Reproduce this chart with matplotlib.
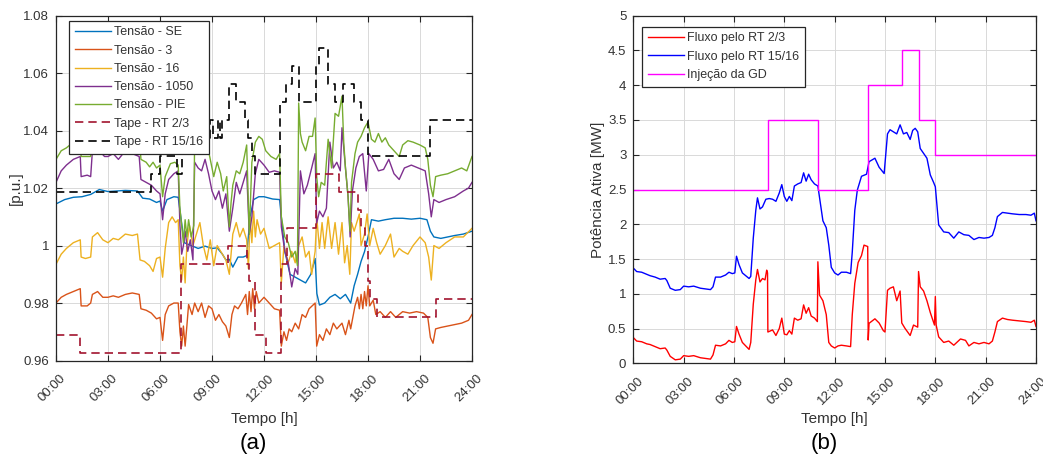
import matplotlib
matplotlib.use("Agg")
import matplotlib.pyplot as plt
import matplotlib.transforms as mtransforms

plt.rcParams['font.family'] = ['Liberation Sans', 'DejaVu Sans']

# ---------------- data: panel (a) ----------------
tensao_se = [(0,1.0145),(0.5,1.0160),(1.0,1.0168),(1.5,1.0170),(2.0,1.0178),(2.5,1.0195),(3.0,1.0188),(3.5,1.0190),
             (4.0,1.0192),(4.7,1.0190),(5.0,1.0165),(5.4,1.0162),(5.8,1.0150),(6.0,1.0155),(6.15,1.0120),(6.4,1.0160),
             (6.8,1.0170),(7.05,1.0168),(7.2,1.0100),(7.4,1.0010),(7.8,1.0000),(8.2,0.9990),(8.6,0.9998),(9.0,0.9990),
             (9.3,0.9992),(9.6,0.9970),(9.8,0.9950),(10.0,0.9952),(10.2,0.9925),(10.5,0.9960),(10.8,0.9960),(11.0,0.9965),
             (11.2,1.0100),(11.4,1.0160),(11.7,1.0170),(12.0,1.0170),(12.5,1.0162),(12.9,1.0160),(13.0,1.0100),(13.2,0.9980),
             (13.5,0.9900),(13.8,0.9890),(14.1,0.9880),(14.4,0.9870),(14.7,0.9900),(14.95,0.9955),(15.05,0.9833),(15.2,0.9793),
             (15.5,0.9800),(15.8,0.9820),(16.1,0.9830),(16.4,0.9815),(16.7,0.9830),(17.0,0.9800),(17.2,0.9860),(17.4,0.9900),
             (17.6,0.9945),(17.8,0.9979),(18.0,1.0030),(18.2,1.0090),(18.6,1.0085),(19.0,1.0090),(19.5,1.0095),(20.0,1.0095),
             (20.5,1.0092),(21.0,1.0095),(21.4,1.0090),(21.6,1.0050),(21.8,1.0030),(22.2,1.0025),(22.6,1.0030),(23.0,1.0035),
             (23.5,1.0040),(24.0,1.0050)]

tensao_3 = [(0,0.980),(0.3,0.982),(0.6,0.983),(1.0,0.984),(1.4,0.985),(1.45,0.979),(1.8,0.979),(2.0,0.980),(2.1,0.983),
            (2.4,0.984),(2.7,0.982),(3.0,0.982),(3.3,0.9825),(3.6,0.982),(4.0,0.983),(4.4,0.9835),(4.8,0.983),(4.9,0.978),
            (5.2,0.9775),(5.5,0.9765),(5.8,0.9745),(6.0,0.975),(6.15,0.967),(6.3,0.976),(6.5,0.979),(6.8,0.980),(7.05,0.980),
            (7.15,0.970),(7.25,0.965),(7.35,0.972),(7.45,0.965),(7.55,0.972),(7.65,0.9795),(7.85,0.976),(8.0,0.980),(8.2,0.977),
            (8.4,0.980),(8.6,0.975),(8.8,0.979),(9.0,0.978),(9.2,0.974),(9.4,0.976),(9.6,0.9735),(9.8,0.972),(10.0,0.968),
            (10.15,0.976),(10.3,0.979),(10.5,0.978),(10.7,0.980),(10.95,0.983),(11.05,0.976),(11.15,0.984),(11.25,0.977),
            (11.35,0.985),(11.45,0.978),(11.55,0.984),(11.7,0.980),(12.0,0.982),(12.3,0.980),(12.6,0.978),(12.9,0.9775),
            (13.0,0.965),(13.15,0.970),(13.3,0.967),(13.45,0.971),(13.6,0.970),(13.8,0.973),(14.0,0.971),(14.2,0.976),
            (14.4,0.975),(14.6,0.978),(14.95,0.980),(15.04,0.965),(15.2,0.969),(15.4,0.967),(15.6,0.971),(15.8,0.969),
            (16.0,0.973),(16.2,0.971),(16.5,0.973),(16.7,0.969),(16.9,0.974),(17.0,0.971),(17.25,0.979),(17.4,0.982),
            (17.5,0.978),(17.6,0.983),(17.7,0.978),(17.8,0.984),(17.9,0.979),(18.0,0.986),(18.1,0.979),(18.3,0.981),
            (18.45,0.976),(18.7,0.977),(19.0,0.975),(19.3,0.977),(19.6,0.975),(20.0,0.977),(20.4,0.9765),(20.8,0.977),
            (21.2,0.9765),(21.45,0.975),(21.6,0.968),(21.75,0.966),(21.9,0.971),(22.2,0.9715),(22.6,0.972),(23.0,0.9725),
            (23.4,0.973),(23.8,0.974),(24.0,0.976)]

tensao_16 = [(0,0.9935),(0.3,0.997),(0.6,0.999),(1.0,1.001),(1.4,1.002),(1.45,0.996),(1.7,0.9955),(2.0,0.996),(2.1,1.003),
             (2.4,1.0045),(2.7,1.002),(3.0,1.001),(3.3,1.0025),(3.6,1.002),(4.0,1.004),(4.4,1.0035),(4.7,1.004),(4.85,0.995),
             (5.1,0.9945),(5.4,0.993),(5.6,0.991),(5.8,0.9955),(6.0,0.996),(6.15,0.989),(6.3,0.999),(6.5,1.008),(6.7,1.010),
             (6.9,1.008),(7.05,1.009),(7.15,0.993),(7.25,0.988),(7.35,0.996),(7.45,0.987),(7.55,1.000),(7.7,1.007),(7.9,1.000),
             (8.1,1.004),(8.3,1.008),(8.5,1.000),(8.7,0.995),(8.9,1.002),(9.1,0.993),(9.3,1.000),(9.6,0.997),(9.8,0.995),
             (10.0,0.990),(10.2,1.004),(10.4,1.008),(10.6,1.003),(10.8,1.006),(11.0,1.002),(11.1,0.992),(11.2,1.010),
             (11.3,1.001),(11.4,1.012),(11.5,1.003),(11.6,1.009),(11.8,1.004),(12.0,1.006),(12.3,0.999),(12.6,1.000),
             (12.9,1.001),(13.0,0.987),(13.15,1.000),(13.4,0.994),(13.6,0.998),(13.8,0.994),(14.0,1.000),(14.2,1.003),
             (14.4,0.996),(14.6,0.998),(14.75,0.990),(14.95,0.998),(15.04,1.010),(15.2,0.999),(15.35,1.008),(15.5,0.999),
             (15.7,1.010),(15.9,0.999),(16.1,1.008),(16.3,0.997),(16.5,1.008),(16.65,0.994),(16.8,1.000),(16.95,0.990),
             (17.05,1.008),(17.2,1.005),(17.5,1.011),(17.6,1.000),(17.8,1.004),(17.95,1.011),(18.1,1.000),(18.3,1.006),
             (18.5,1.001),(18.7,0.997),(19.0,1.000),(19.3,1.004),(19.5,0.996),(19.8,0.999),(20.0,0.998),(20.3,0.997),
             (20.6,1.000),(21.0,1.003),(21.3,1.001),(21.5,0.996),(21.65,0.988),(21.8,1.000),(22.1,0.999),(22.5,1.001),
             (23.0,1.003),(23.5,1.003),(24.0,1.006)]

tensao_1050 = [(0,1.022),(0.3,1.026),(0.6,1.028),(1.0,1.030),(1.4,1.031),(1.45,1.024),(1.8,1.0245),(2.0,1.024),(2.1,1.033),
               (2.5,1.033),(2.8,1.031),(3.0,1.031),(3.3,1.032),(3.6,1.030),(4.0,1.033),(4.4,1.032),(4.8,1.031),(4.9,1.023),
               (5.2,1.022),(5.5,1.021),(5.8,1.019),(6.0,1.018),(6.15,1.009),(6.3,1.018),(6.5,1.023),(6.8,1.025),(7.05,1.026),
               (7.15,1.007),(7.25,0.997),(7.35,1.000),(7.45,1.005),(7.6,0.998),(7.75,1.002),(7.9,0.995),(8.0,1.029),(8.2,1.027),
               (8.4,1.026),(8.6,1.030),(8.8,1.025),(9.0,1.019),(9.2,1.016),(9.4,1.019),(9.6,1.013),(9.8,1.018),(10.0,1.005),
               (10.2,1.013),(10.4,1.022),(10.6,1.018),(10.8,1.022),(11.0,1.026),(11.15,1.004),(11.3,1.010),(11.5,1.025),
               (11.7,1.030),(12.0,1.028),(12.3,1.0255),(12.6,1.026),(12.9,1.0255),(13.0,1.0065),(13.2,0.998),(13.4,0.994),
               (13.6,0.9856),(13.8,0.992),(13.95,0.990),(14.1,1.026),(14.3,1.018),(14.5,1.021),(14.75,1.027),(14.95,1.032),
               (15.04,1.0078),(15.2,1.012),(15.4,1.010),(15.6,1.013),(15.8,1.036),(16.0,1.027),(16.2,1.029),(16.4,1.026),
               (16.5,1.041),(16.7,1.027),(16.85,1.017),(16.97,1.003),(17.1,1.019),(17.3,1.027),(17.5,1.031),(17.7,1.032),
               (17.9,1.019),(18.05,1.032),(18.3,1.030),(18.6,1.026),(18.9,1.0265),(19.2,1.030),(19.5,1.025),(19.8,1.023),
               (20.1,1.027),(20.5,1.028),(20.9,1.027),(21.3,1.026),(21.5,1.018),(21.65,1.010),(21.8,1.016),(22.1,1.015),
               (22.5,1.016),(23.0,1.017),(23.5,1.019),(23.8,1.020),(24.0,1.022)]

tensao_pie = [(0,1.030),(0.3,1.033),(0.6,1.034),(1.0,1.036),(1.4,1.037),(1.45,1.031),(2.0,1.031),(2.1,1.039),(3.0,1.040),
              (4.0,1.040),(4.8,1.039),(4.9,1.030),(5.2,1.029),(5.4,1.0274),(5.6,1.029),(5.8,1.027),(6.0,1.028),(6.15,1.017),
              (6.3,1.024),(6.6,1.0285),(6.86,1.029),(7.05,1.028),(7.15,1.013),(7.25,1.007),(7.35,1.001),(7.45,1.009),
              (7.55,1.003),(7.65,1.009),(7.8,1.003),(7.95,1.007),(8.0,1.039),(8.15,1.035),(8.3,1.038),(8.5,1.042),(8.7,1.036),
              (8.9,1.030),(9.1,1.024),(9.3,1.029),(9.5,1.025),(9.65,1.019),(9.85,1.024),(10.0,1.0065),(10.1,1.015),(10.2,1.021),
              (10.4,1.026),(10.6,1.025),(10.8,1.029),(11.0,1.035),(11.15,1.004),(11.3,1.029),(11.5,1.036),(11.7,1.038),
              (11.9,1.037),(12.1,1.033),(12.4,1.031),(12.7,1.030),(12.9,1.032),(13.0,1.010),(13.2,1.003),(13.4,1.001),
              (13.6,0.996),(13.8,0.998),(13.93,0.993),(14.0,1.0496),(14.1,1.039),(14.2,1.036),(14.4,1.033),(14.6,1.038),
              (14.8,1.038),(14.95,1.0444),(15.04,1.024),(15.15,1.017),(15.3,1.022),(15.5,1.021),(15.7,1.037),(15.9,1.027),
              (16.1,1.046),(16.3,1.045),(16.5,1.052),(16.6,1.036),(16.7,1.027),(16.85,1.017),(16.96,1.005),(17.05,1.022),
              (17.25,1.032),(17.4,1.036),(17.6,1.038),(17.8,1.041),(18.0,1.043),(18.2,1.037),(18.4,1.036),(18.6,1.039),
              (18.8,1.036),(19.0,1.0375),(19.2,1.035),(19.5,1.033),(19.8,1.031),(20.0,1.035),(20.3,1.0365),(20.6,1.036),
              (21.0,1.035),(21.3,1.034),(21.45,1.030),(21.6,1.021),(21.75,1.017),(21.9,1.024),(22.2,1.0245),(22.6,1.025),
              (23.0,1.026),(23.4,1.027),(23.7,1.026),(24.0,1.031)]

tape_rt23 = [(0,0.96875),(1.4,0.9625),(7.2,0.99375),(9.9,1.0),(11.0,0.99375),(11.15,0.9875),(11.5,0.96875),(12.1,0.9625),
             (13.0,0.99375),(13.3,1.00625),(15.0,1.025),(16.3,1.01875),(17.4,1.0125),(17.6,1.00625),(17.8,1.0),
             (18.0,0.9875),(18.1,0.98125),(18.5,0.975),(21.9,0.98125),(24.0,0.98125)]

tape_rt1516 = [(0,1.01875),(5.5,1.025),(6.0,1.03125),(7.0,1.025),(7.25,1.0375),(8.3,1.04375),(8.5,1.0375),(8.9,1.04375),
               (9.05,1.0375),(9.35,1.04375),(9.45,1.0375),(9.6,1.04375),(10.0,1.05625),(10.4,1.05),(10.9,1.04375),
               (11.1,1.0375),(11.3,1.03125),(11.5,1.025),(12.95,1.05),(13.25,1.05625),(13.6,1.0625),(14.0,1.05),
               (15.0,1.0625),(15.2,1.06875),(15.7,1.05625),(16.1,1.05),(16.55,1.05625),(17.2,1.05),(17.6,1.04375),
               (18.0,1.03125),(21.6,1.04375),(24.0,1.04375)]

# ---------------- data: panel (b) ----------------
fluxo_rt23 = [(0,0.37),(0.2,0.32),(0.5,0.31),(0.8,0.28),(1.0,0.27),(1.3,0.24),(1.6,0.21),(1.9,0.22),(2.0,0.19),(2.2,0.10),
              (2.5,0.05),(2.8,0.06),(3.0,0.11),(3.3,0.10),(3.6,0.11),(4.0,0.08),(4.3,0.07),(4.6,0.06),(4.75,0.12),(4.9,0.26),
              (5.2,0.25),(5.5,0.28),(5.7,0.33),(5.9,0.30),(6.05,0.31),(6.15,0.53),(6.3,0.42),(6.5,0.30),(6.7,0.25),(6.9,0.20),
              (7.0,0.30),(7.15,0.85),(7.3,1.20),(7.4,1.35),(7.55,1.17),(7.7,1.22),(7.85,1.20),(7.95,1.34),(8.0,1.30),(8.02,0.45),
              (8.3,0.48),(8.5,0.40),(8.7,0.50),(8.85,0.65),(9.0,0.42),(9.15,0.41),(9.3,0.47),(9.45,0.42),(9.6,0.65),(9.8,0.62),
              (10.0,0.64),(10.15,0.84),(10.3,0.72),(10.45,0.80),(10.6,0.68),(10.8,0.65),(10.97,0.60),(11.0,1.46),(11.1,0.98),
              (11.3,0.90),(11.5,0.70),(11.65,0.30),(11.8,0.25),(12.0,0.22),(12.2,0.25),(12.4,0.26),(12.7,0.25),(12.95,0.24),
              (13.05,0.70),(13.2,1.15),(13.4,1.45),(13.6,1.55),(13.75,1.70),(13.97,1.68),(14.0,0.335),(14.05,0.575),
              (14.4,0.64),(14.65,0.58),(14.9,0.47),(15.0,0.45),(15.15,1.05),(15.3,1.08),(15.5,1.10),(15.7,0.90),(15.9,1.04),
              (16.0,0.58),(16.2,0.50),(16.5,0.40),(16.7,0.55),(16.95,0.52),(17.0,1.32),(17.1,1.10),(17.3,1.04),(17.5,0.90),
              (17.7,0.73),(17.95,0.55),(18.0,0.96),(18.05,0.55),(18.2,0.38),(18.5,0.30),(18.8,0.32),(19.1,0.26),(19.5,0.35),
              (19.8,0.33),(20.0,0.25),(20.3,0.30),(20.6,0.28),(20.9,0.30),(21.2,0.28),(21.4,0.32),(21.55,0.45),(21.7,0.60),
              (22.0,0.65),(22.3,0.63),(22.6,0.62),(23.0,0.61),(23.4,0.60),(23.7,0.59),(23.9,0.62),(24.0,0.53)]

fluxo_rt1516 = [(0,1.37),(0.2,1.32),(0.5,1.31),(0.8,1.28),(1.0,1.26),(1.3,1.24),(1.6,1.21),(1.9,1.22),(2.0,1.19),(2.2,1.08),
                (2.5,1.05),(2.8,1.06),(3.0,1.11),(3.3,1.10),(3.6,1.11),(4.0,1.08),(4.3,1.07),(4.6,1.06),(4.75,1.10),(4.9,1.24),
                (5.2,1.24),(5.5,1.27),(5.7,1.31),(5.9,1.29),(6.05,1.30),(6.15,1.54),(6.3,1.42),(6.5,1.30),(6.7,1.26),(6.9,1.22),
                (7.0,1.25),(7.15,1.80),(7.3,2.20),(7.4,2.38),(7.55,2.22),(7.7,2.25),(7.9,2.36),(8.1,2.37),(8.3,2.36),(8.5,2.33),
                (8.7,2.45),(8.85,2.57),(9.0,2.40),(9.15,2.33),(9.3,2.40),(9.45,2.34),(9.6,2.55),(9.8,2.58),(10.0,2.60),
                (10.15,2.74),(10.3,2.62),(10.45,2.72),(10.6,2.64),(10.8,2.58),(11.0,2.55),(11.15,2.30),(11.3,2.05),(11.5,1.95),
                (11.65,1.70),(11.8,1.38),(12.0,1.30),(12.2,1.27),(12.4,1.31),(12.7,1.31),(12.95,1.29),(13.05,1.60),(13.2,2.20),
                (13.35,2.49),(13.6,2.69),(13.9,2.72),(14.05,2.90),(14.4,2.95),(14.65,2.82),(14.95,2.73),(15.15,3.30),(15.3,3.36),
                (15.5,3.33),(15.7,3.30),(15.9,3.43),(16.1,3.30),(16.3,3.32),(16.5,3.22),(16.65,3.35),(16.8,3.38),(16.95,3.33),
                (17.1,3.09),(17.3,3.02),(17.5,2.95),(17.7,2.71),(17.9,2.60),(18.0,2.54),(18.2,1.99),(18.5,1.89),(18.8,1.88),
                (19.1,1.80),(19.4,1.89),(19.7,1.85),(20.0,1.84),(20.3,1.78),(20.6,1.81),(20.9,1.80),(21.2,1.81),(21.4,1.84),
                (21.55,1.95),(21.7,2.11),(22.0,2.17),(22.3,2.16),(22.6,2.15),(23.0,2.14),(23.4,2.14),(23.7,2.13),(23.9,2.16),
                (24.0,2.05)]

injecao_gd = [(0,2.5),(8,3.5),(11,2.5),(14,4.0),(16,4.5),(17,3.5),(18,3.0),(24,3.0)]

x_ticks = [0, 3, 6, 9, 12, 15, 18, 21, 24]
x_ticklabels = ["00:00", "03:00", "06:00", "09:00", "12:00", "15:00", "18:00", "21:00", "24:00"]
y_ticks_a = [0.96, 0.98, 1.00, 1.02, 1.04, 1.06, 1.08]
y_ticklabels_a = ["0.96", "0.98", "1", "1.02", "1.04", "1.06", "1.08"]
y_ticks_b = [0, 0.5, 1, 1.5, 2, 2.5, 3, 3.5, 4, 4.5, 5]
y_ticklabels_b = ["0", "0.5", "1", "1.5", "2", "2.5", "3", "3.5", "4", "4.5", "5"]

# ---------------- figure ----------------
W, H = 1043, 457
fig = plt.figure(figsize=(W / 100, H / 100), dpi=100)
ax1 = fig.add_axes([56 / W, 1 - 360.5 / H, 416 / W, (360.5 - 15.7) / H])
ax2 = fig.add_axes([633.3 / W, 1 - 363.3 / H, 402.7 / W, (363.3 - 15.7) / H])

TXT = '#333333'
AXC = '#262626'
FS_TICK = 9.5
FS_LAB = 11
FS_LEG = 9


def xy(pairs):
    return [p[0] for p in pairs], [p[1] for p in pairs]


def style(ax):
    ax.set_xlim(0, 24)
    ax.set_xticks(x_ticks)
    ax.set_xticklabels([])
    off = mtransforms.ScaledTranslation(4 / 100, -12 / 100, fig.dpi_scale_trans)
    for xt, lab in zip(x_ticks, x_ticklabels):
        ax.text(xt, 0, lab, transform=ax.get_xaxis_transform() + off, rotation=45,
                ha='right', va='top', rotation_mode='anchor', fontsize=FS_TICK, color=TXT)
    ax.grid(True, color='#d9d9d9', linewidth=0.7)
    ax.set_axisbelow(True)
    ax.tick_params(direction='in', length=4, width=0.8, colors=AXC, labelcolor=TXT, labelsize=FS_TICK,
                   top=True, right=True, pad=5)
    for s in ax.spines.values():
        s.set_color(AXC)
        s.set_linewidth(0.9)


series_a = [
    (tensao_se, '#0072BD', 'Tensão - SE'),
    (tensao_3, '#D95319', 'Tensão - 3'),
    (tensao_16, '#EDB120', 'Tensão - 16'),
    (tensao_1050, '#7E2F8E', 'Tensão - 1050'),
    (tensao_pie, '#77AC30', 'Tensão - PIE'),
]
for data, c, lab in series_a:
    t, v = xy(data)
    ax1.plot(t, v, color=c, lw=1.0, label=lab)
t, v = xy(tape_rt23)
ax1.plot(t, v, color='#A2142F', lw=1.2, ls=(0, (5, 3)), drawstyle='steps-post', label='Tape - RT 2/3')
t, v = xy(tape_rt1516)
ax1.plot(t, v, color='black', lw=1.2, ls=(0, (5, 3)), drawstyle='steps-post', label='Tape - RT 15/16')

style(ax1)
ax1.set_ylim(0.96, 1.08)
ax1.set_yticks(y_ticks_a)
ax1.set_yticklabels(y_ticklabels_a)
ax1.set_xlabel('Tempo [h]', fontsize=FS_LAB, color=TXT)
ax1.set_ylabel('[p.u.]', fontsize=FS_LAB, color=TXT)
ax1.xaxis.set_label_coords(0.5, -(412 - 360.5) / 344.8)
ax1.yaxis.set_label_coords(-(56 - 23) / 416, 0.5)
leg1 = ax1.legend(loc='upper left', bbox_to_anchor=(0.031, 0.985), borderaxespad=0, fontsize=FS_LEG,
                  frameon=True, fancybox=False, edgecolor='#262626', framealpha=1, handlelength=2.9,
                  handletextpad=0.25, labelspacing=0.5, borderpad=0.45)
leg1.get_frame().set_linewidth(0.9)
for tx in leg1.get_texts():
    tx.set_color(TXT)

t, v = xy(fluxo_rt23)
ax2.plot(t, v, color='#FF0000', lw=1.0, label='Fluxo pelo RT 2/3')
t, v = xy(fluxo_rt1516)
ax2.plot(t, v, color='#0000FF', lw=1.0, label='Fluxo pelo RT 15/16')
t, v = xy(injecao_gd)
ax2.plot(t, v, color='#FF00FF', lw=1.0, drawstyle='steps-post', label='Injeção da GD')

style(ax2)
ax2.set_ylim(0, 5)
ax2.set_yticks(y_ticks_b)
ax2.set_yticklabels(y_ticklabels_b)
ax2.set_xlabel('Tempo [h]', fontsize=FS_LAB, color=TXT)
ax2.set_ylabel('Potência Ativa [MW]', fontsize=FS_LAB, color=TXT)
ax2.xaxis.set_label_coords(0.5, -(412 - 363.3) / 347.6)
ax2.yaxis.set_label_coords(-(633.3 - 605) / 402.7, 0.5)
leg2 = ax2.legend(loc='upper left', bbox_to_anchor=(0.022, 0.968), borderaxespad=0, fontsize=FS_LEG,
                  frameon=True, fancybox=False, edgecolor='#262626', framealpha=1, handlelength=2.9,
                  handletextpad=0.25, labelspacing=0.5, borderpad=0.45)
leg2.get_frame().set_linewidth(0.9)
for tx in leg2.get_texts():
    tx.set_color(TXT)

fig.text(253 / W, 1 - 443 / H, '(a)', fontsize=16, ha='center', va='center', color='black')
fig.text(824 / W, 1 - 443 / H, '(b)', fontsize=16, ha='center', va='center', color='black')

fig.savefig('out.png', dpi=100)
